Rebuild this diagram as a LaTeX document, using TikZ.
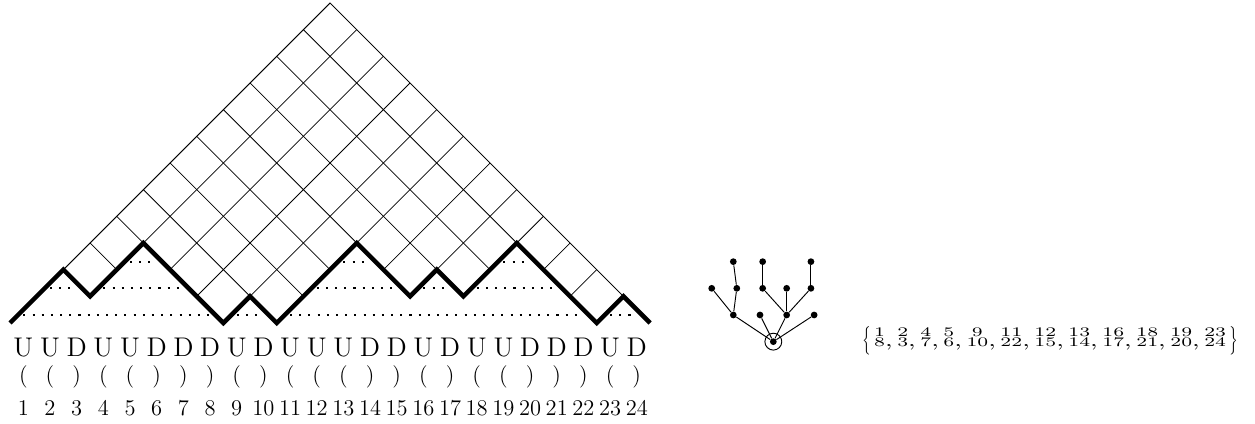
\documentclass[tikz,border=0pt]{standalone}
\usepackage{amsmath}
\usepackage{graphicx}
\usetikzlibrary{positioning,calc}

% one column of the matching: opener over closer
\newcommand{\mpair}[2]{\vbox{\baselineskip=5.4pt\lineskiplimit=-\maxdimen
  \halign{\hfil\scriptsize##\hfil\cr#1\cr#2\cr}}}
\newcommand{\mbrace}[1]{\raisebox{0pt}{\scalebox{0.55}[1.27]{$#1$}}}
\def\parU{(}
\def\parD{)}

\begin{document}
\begin{tikzpicture}[x=0.5cm,y=0.5cm,
  gridline/.style={line width=0.4pt},
  dyckline/.style={line width=2.4pt},
  matchline/.style={line width=1.1pt,dash pattern=on 1.1pt off 3.8pt},
  steplabel/.style={anchor=base,inner sep=0pt,font=\Large},
  parlabel/.style={anchor=base,inner sep=0pt,font=\large},
  numlabel/.style={anchor=base,inner sep=0pt,font=\large},
  vtx/.style={circle,fill,inner sep=0pt,minimum size=3.6pt},
  rootring/.style={circle,draw,line width=0.5pt,inner sep=0pt,minimum size=9pt},
  treeedge/.style={line width=0.5pt}]
\useasboundingbox (-0.375,-3.75) rectangle (46.68,12.11);

% LEFT: Dyck path, cells above it and its word
\coordinate (p0) at (0,0);
\coordinate (top) at (12,12);
\foreach \s/\h [count=\i] in {U/1,U/2,D/1,U/2,U/3,D/2,D/1,D/0,U/1,D/0,U/1,U/2,
                              U/3,D/2,D/1,U/2,D/1,U/2,U/3,D/2,D/1,D/0,U/1,D/0} {
  \coordinate (p\i) at (\i,\h);
  \node[steplabel] (w\i) at (\i-0.5,-1.26) {\s};
  \node[parlabel] (b\i) at (\i-0.5,-2.24) {\csname par\s\endcsname};
  \node[numlabel] (n\i) at (\i-0.5,-3.48) {\i};
}
% cells between the path and the big triangle
\begin{scope}
  \clip (p0) \foreach \i in {1,...,24} {-- (p\i)} -- (top) -- cycle;
  \foreach \k in {0,...,12} {
    \draw[gridline] (2*\k,0) -- ++(12,12);
    \draw[gridline] (2*\k,0) -- ++(-12,12);
  }
\end{scope}
\draw[gridline] (p0) -- (top) -- (p24);
% matching U/D pairs
\foreach \a/\b/\k in {1/8/0,2/3/1,4/7/1,5/6/2,9/10/0,11/22/0,
                      12/15/1,13/14/2,16/17/1,18/21/1,19/20/2,23/24/0}
  \draw[matchline] (\a-0.5,\k+0.3) -- (\b-0.5,\k+0.3);
\draw[dyckline] (p0) \foreach \i in {1,...,24} {-- (p\i)};

% MIDDLE: plane tree
\node[vtx] (r) at (28.62,-0.7) {};
\node[rootring] (rring) at (r) {};
\node[vtx] (a1) at (27.12,0.3) {};
\node[vtx] (a2) at (28.12,0.3) {};
\node[vtx] (a3) at (29.12,0.3) {};
\node[vtx] (a4) at (30.15,0.3) {};
\node[vtx] (b1) at (26.31,1.3) {};
\node[vtx] (b2) at (27.25,1.3) {};
\node[vtx] (b3) at (28.22,1.3) {};
\node[vtx] (b4) at (29.12,1.3) {};
\node[vtx] (b5) at (30.03,1.3) {};
\node[vtx] (c1) at (27.12,2.3) {};
\node[vtx] (c2) at (28.22,2.3) {};
\node[vtx] (c3) at (30.03,2.3) {};
\foreach \u/\v in {r/a1,r/a2,r/a3,r/a4,a1/b1,a1/b2,b2/c1,a3/b3,a3/b4,a3/b5,b3/c2,b5/c3}
  \draw[treeedge] (\u) -- (\v);

% RIGHT: the matching as a set of pairs
\node[anchor=base,inner sep=0pt] (pairs) at (39.0,-0.9) {\scalebox{1.46}[1]{%
  \mbrace{\bigl\{}\hspace{1.2pt}\mpair{1}{8},\,\mpair{2}{3},\,\mpair{4}{7},\,\mpair{5}{6},\,%
  \mpair{9}{10},\,\mpair{11}{22},\,\mpair{12}{15},\,\mpair{13}{14},\,\mpair{16}{17},\,%
  \mpair{18}{21},\,\mpair{19}{20},\,\mpair{23}{24}\hspace{1.2pt}\mbrace{\bigr\}}}};
\end{tikzpicture}
\end{document}
